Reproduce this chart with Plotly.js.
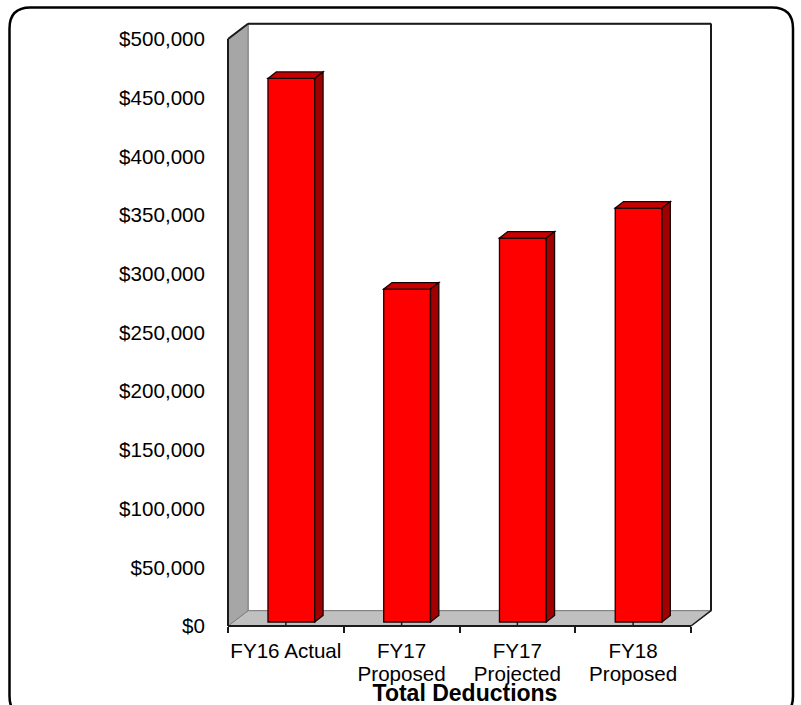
<!DOCTYPE html>
<html><head><meta charset="utf-8">
<script src="https://cdn.plot.ly/plotly-3.0.1.min.js"></script>
<style>html,body{margin:0;padding:0;background:#fff;overflow:hidden}#c{width:801px;height:705px}</style>
</head><body><div id="c"></div>
<script>
const categories = ["FY16 Actual", "FY17<br>Proposed", "FY17<br>Projected", "FY18<br>Proposed"];
const deductions = [463000, 283600, 327000, 352600];
const yTicks = [0, 50000, 100000, 150000, 200000, 250000, 300000, 350000, 400000, 450000, 500000];

// Pixel frame of the chart
const W = 801, H = 705;
const plotL = 224, plotR = 715, plotT = 19, plotB = 630; // plot box, slightly larger than the frame so outlines aren't clipped
const frameL = 228, frameFrontR = 691, frameB = 626, frameTop500 = 39;
const pxPerCat = (frameFrontR - frameL) / 4;
const pxPerVal = (frameB - frameTop500) / 500000;
const xRange = [-0.5 - (frameL - plotL) / pxPerCat, -0.5 + (plotR - frameL) / pxPerCat];
const yRange = [-(plotB - frameB) / pxPerVal, (frameB - plotT) / pxPerVal];

// 3D depth, in data units
const wallDX = 20 / pxPerCat, wallDY = 15.3 / pxPerVal;
const barDX = 8.3 / pxPerCat, barDY = 6.5 / pxPerVal;
const barOffset = -17.9 / pxPerCat, barWidth = 46.8 / pxPerCat, barBase = 4 / pxPerVal;

const xMin = -0.5, xMax = 3.5, yMax = 500000;
const poly = (pts, fill, line, width, layer) => ({
  type: 'path', xref: 'x', yref: 'y', layer: layer,
  path: 'M ' + pts.map(p => p[0].toFixed(5) + ',' + p[1].toFixed(1)).join(' L ') + ' Z',
  fillcolor: fill, line: {color: line, width: width}
});
const seg = (a, b, color, width, layer) => ({
  type: 'line', xref: 'x', yref: 'y', layer: layer,
  x0: a[0], y0: a[1], x1: b[0], y1: b[1], line: {color: color, width: width}
});

const shapes = [
  // back wall
  poly([[xMin + wallDX, wallDY], [xMin + wallDX, yMax + wallDY], [xMax + wallDX, yMax + wallDY], [xMax + wallDX, wallDY]], '#ffffff', '#8c8c8c', 1.5, 'below'),
  // floor
  poly([[xMin, 0], [xMin + wallDX, wallDY], [xMax + wallDX, wallDY], [xMax, 0]], '#c0c0c0', '#808080', 1, 'below'),
  // left wall
  poly([[xMin, 0], [xMin, yMax], [xMin + wallDX, yMax + wallDY], [xMin + wallDX, wallDY]], '#a6a6a6', '#808080', 1, 'below'),
  // dark outer outline
  seg([xMin, 0], [xMin, yMax], '#1a1a1a', 2, 'below'),
  seg([xMin, yMax], [xMin + wallDX, yMax + wallDY], '#1a1a1a', 2, 'below'),
  seg([xMin + wallDX, yMax + wallDY], [xMax + wallDX, yMax + wallDY], '#1a1a1a', 2, 'below'),
  seg([xMax + wallDX, yMax + wallDY], [xMax + wallDX, wallDY], '#1a1a1a', 2, 'below'),
  seg([xMax + wallDX, wallDY], [xMax, 0], '#1a1a1a', 1.5, 'below'),
  seg([xMin, 0], [xMax, 0], '#1a1a1a', 2, 'below')
];
// short inner tick at each category centre, and the top + side faces of each bar
deductions.forEach((v, i) => {
  shapes.push(seg([i, 0], [i, barBase], '#1a1a1a', 1.5, 'below'));
  const l = i + barOffset, r = l + barWidth, b = barBase, t = barBase + v;
  shapes.push(poly([[l, t], [l + barDX, t + barDY], [r + barDX, t + barDY], [r, t]], '#c80000', '#1a0000', 1.3, 'above'));
  shapes.push(poly([[r, b], [r, t], [r + barDX, t + barDY], [r + barDX, b + barDY]], '#a00000', '#1a0000', 1.3, 'above'));
});
// rounded page border, in pixels converted to paper coordinates
const paperX = px => (px - plotL) / (plotR - plotL);
const paperY = py => (plotB - py) / (plotB - plotT);
const bL = 9.5, bR = 793, bT = 7.5, bB = 717, rad = 21;
const P = (x, y) => paperX(x).toFixed(5) + ',' + paperY(y).toFixed(5);
shapes.push({
  type: 'path', xref: 'paper', yref: 'paper', layer: 'below',
  path: `M ${P(bL + rad, bT)} L ${P(bR - rad, bT)} Q ${P(bR, bT)} ${P(bR, bT + rad)} L ${P(bR, bB - rad)} Q ${P(bR, bB)} ${P(bR - rad, bB)} L ${P(bL + rad, bB)} Q ${P(bL, bB)} ${P(bL, bB - rad)} L ${P(bL, bT + rad)} Q ${P(bL, bT)} ${P(bL + rad, bT)} Z`,
  line: {color: '#000', width: 2.5}, fillcolor: 'rgba(0,0,0,0)'
});

const font = {family: '"Liberation Sans", Arial, sans-serif', color: '#000', size: 20.6};
const traces = [{
  type: 'bar', x: categories, y: deductions, base: barBase,
  offset: barOffset, width: barWidth,
  marker: {color: '#ff0000', line: {color: '#1a0000', width: 1.3}},
  hoverinfo: 'x+y', showlegend: false
}];
const layout = {
  width: W, height: H, autosize: false, showlegend: false,
  paper_bgcolor: '#fff', plot_bgcolor: 'rgba(0,0,0,0)', font: font,
  margin: {l: plotL, r: W - plotR, t: plotT, b: H - plotB, pad: 0},
  title: {text: '<b>Total Deductions</b>', x: 465 / W, y: 1 - 693 / H, xanchor: 'center', yanchor: 'middle', font: {family: font.family, size: 23, color: '#000'}},
  xaxis: {
    type: 'category', categoryorder: 'array', categoryarray: categories,
    range: xRange, fixedrange: true, anchor: 'free', position: paperY(frameB),
    tickson: 'boundaries', ticks: 'outside', ticklen: 6, tickwidth: 2, tickcolor: '#1a1a1a', ticklabelstandoff: 10,
    showgrid: false, zeroline: false, showline: false, tickangle: 0, tickfont: font, automargin: false
  },
  yaxis: {
    range: yRange, fixedrange: true, anchor: 'free', position: paperX(frameL),
    tickmode: 'array', tickvals: yTicks, ticktext: yTicks.map(v => '$' + v.toLocaleString('en-US')),
    ticks: '', ticklabelstandoff: 23, showgrid: false, zeroline: false, showline: false, tickfont: font, automargin: false
  },
  shapes: shapes, bargap: 0
};
Plotly.newPlot('c', traces, layout, {displayModeBar: false, staticPlot: true}).then(() => {
  // tighten the two-line tick labels to the reference's line spacing
  document.querySelectorAll('.xtick tspan.line').forEach(t => { if (parseFloat(t.getAttribute('dy')) > 0) t.setAttribute('dy', '1.12em'); });
});
</script></body></html>
